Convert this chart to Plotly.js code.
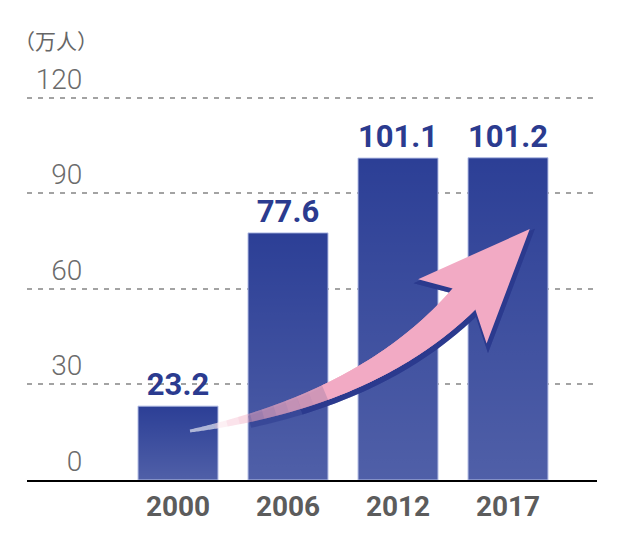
<!DOCTYPE html>
<html>
<head>
<meta charset="utf-8">
<script src="https://cdn.plot.ly/plotly-3.0.1.min.js"></script>
<style>html,body{margin:0;padding:0;background:#fff;}#chart{width:620px;height:560px;}</style>
</head>
<body>
<div id="chart"></div>
<script>
// ---- data ----
const years = ['2000', '2006', '2012', '2017'];
const values = [23.2, 77.6, 101.1, 101.2];
const yTickVals = [0, 30, 60, 90, 120];
const yTickText = ['0', '30', '60', '90', '120'];
const unitLabel = '（万人）';

// ---- layout geometry ----
const Wd = 620, Ht = 560;
const M = {l: 27, r: 23, t: 82, b: 80};
const PW = Wd - M.l - M.r, PH = Ht - M.t - M.b;
const xIdx = years.map((_, i) => i);
const barW = 0.727;

// ---- bar gradient overlay (per bar) ----
const gradSvg = "<svg xmlns='http://www.w3.org/2000/svg' width='10' height='100' viewBox='0 0 10 100' preserveAspectRatio='none'>" +
  "<defs><linearGradient id='g' x1='0' y1='0' x2='0' y2='1'>" +
  "<stop offset='0' stop-color='#ffffff' stop-opacity='0'/>" +
  "<stop offset='1' stop-color='#ffffff' stop-opacity='0.17'/>" +
  "</linearGradient></defs><rect x='0' y='0' width='10' height='100' fill='url(#g)'/></svg>";
const gradSrc = 'data:image/svg+xml;charset=utf-8,' + encodeURIComponent(gradSvg);
const images = values.map((v, i) => ({
  source: gradSrc, xref: 'x', yref: 'y',
  x: xIdx[i] - barW / 2, y: v, sizex: barW, sizey: v,
  xanchor: 'left', yanchor: 'top', sizing: 'stretch', layer: 'above'
}));

// ---- decorative arrow (pixel geometry -> paper) ----
function px2paper(x, y) { return [(x - M.l) / PW, (M.t + PH - y) / PH]; }
const P0 = [190, 431], P1 = [370, 399], P2 = [464, 299];
function B(t) { const u = 1 - t; return [u*u*P0[0] + 2*u*t*P1[0] + t*t*P2[0], u*u*P0[1] + 2*u*t*P1[1] + t*t*P2[1]]; }
function D(t) { const u = 1 - t; return [2*u*(P1[0]-P0[0]) + 2*t*(P2[0]-P1[0]), 2*u*(P1[1]-P0[1]) + 2*t*(P2[1]-P1[1])]; }
function edge(t, side) {
  const p = B(t), d = D(t), l = Math.hypot(d[0], d[1]);
  const n = [d[1] / l, -d[0] / l];
  const w = (3 + 32 * t - 4 * t * t) / 2 * side;
  return [p[0] + n[0] * w, p[1] + n[1] * w];
}
function tOfX(x) { let a = 0, b = 1; for (let i = 0; i < 40; i++) { const m = (a + b) / 2; if (B(m)[0] < x) a = m; else b = m; } return (a + b) / 2; }
function headPts() {
  const p = B(1), d = D(1), l = Math.hypot(d[0], d[1]);
  const a = [d[0] / l, d[1] / l], n = [a[1], -a[0]];
  const pt = (al, pe) => [p[0] + a[0]*al + n[0]*pe, p[1] + a[1]*al + n[1]*pe];
  return [pt(-17, 47), pt(96, 0), pt(-17, -47)];
}
function arrowPts(t0, t1, withHead, dx, dy) {
  const N = 40, up = [], lo = [];
  for (let i = 0; i <= N; i++) { const t = t0 + (t1 - t0) * i / N; up.push(edge(t, 1)); lo.push(edge(t, -1)); }
  const pts = up.concat(withHead ? headPts() : [], lo.reverse());
  return pts.map(p => [p[0] + (dx || 0), p[1] + (dy || 0)]);
}
function toPath(pts) {
  return 'M' + pts.map(p => { const q = px2paper(p[0], p[1]); return q[0].toFixed(5) + ',' + q[1].toFixed(5); }).join('L') + 'Z';
}
const shapes = [];
const dark = '#2b3a8e';
// shadow
shapes.push({type: 'path', xref: 'paper', yref: 'paper', path: toPath(arrowPts(tOfX(250), 1, true, 1.5, 3.5)),
  fillcolor: dark, line: {color: dark, width: 4}, opacity: 0.5});
shapes.push({type: 'path', xref: 'paper', yref: 'paper', path: toPath(arrowPts(tOfX(300), 1, true, 1.5, 3.5)),
  fillcolor: dark, line: {color: dark, width: 4}, opacity: 1});
// pale tail
shapes.push({type: 'path', xref: 'paper', yref: 'paper', path: toPath(arrowPts(0, tOfX(240), false)),
  fillcolor: 'rgba(255,255,255,0.6)', line: {width: 0}});
// pink build-up
for (let x = 215; x <= 320; x += 12) {
  shapes.push({type: 'path', xref: 'paper', yref: 'paper', path: toPath(arrowPts(tOfX(x), 1, false)),
    fillcolor: 'rgba(242,170,196,0.18)', line: {width: 0}});
}
shapes.push({type: 'path', xref: 'paper', yref: 'paper', path: toPath(arrowPts(tOfX(325), 1, true)),
  fillcolor: 'rgb(242,170,196)', line: {width: 0}});

// ---- traces ----
const traces = [{
  type: 'bar', x: xIdx, y: values, width: barW,
  marker: {color: '#2c3f96', line: {color: 'rgba(175,185,228,0.95)', width: 1}},
  text: values.map(v => v.toFixed(1)), textposition: 'outside', constraintext: 'none', cliponaxis: false,
  textfont: {family: 'Roboto, Arial, sans-serif', size: 31, color: '#2b3b8f', weight: 'bold'},
  hoverinfo: 'skip'
}];

const layout = {
  width: Wd, height: Ht, margin: M, showlegend: false,
  paper_bgcolor: '#fff', plot_bgcolor: '#fff',
  bargap: 0.2,
  xaxis: {
    range: [(M.l - 178) / 110, (Wd - M.r - 178) / 110],
    tickvals: xIdx, ticktext: years, ticks: '',
    tickfont: {family: 'Roboto, Arial, sans-serif', size: 28, color: '#5c5c5c', weight: 'bold'},
    showline: true, linecolor: '#000', linewidth: 2, showgrid: false, zeroline: false, fixedrange: true
  },
  yaxis: {
    range: [0, 125], anchor: 'free', position: 0.097,
    tickvals: yTickVals, ticktext: yTickText, ticks: '',
    tickfont: {family: 'Roboto, Arial, sans-serif', size: 28, color: '#6b6b6b', weight: 300},
    ticklabelshift: -19,
    showgrid: true, gridcolor: '#a3a3a3', gridwidth: 2, griddash: '5px,6px',
    zeroline: false, showline: false, fixedrange: true
  },
  images: images,
  shapes: shapes,
  annotations: [{
    text: unitLabel, xref: 'paper', yref: 'paper', x: (12 - M.l) / PW, y: (M.t + PH - 40) / PH,
    xanchor: 'left', yanchor: 'middle', showarrow: false,
    font: {family: 'Noto Sans CJK SC, sans-serif', size: 21, color: '#666666'}
  }]
};

Plotly.newPlot('chart', traces, layout, {staticPlot: true, displayModeBar: false});
</script>
</body>
</html>
